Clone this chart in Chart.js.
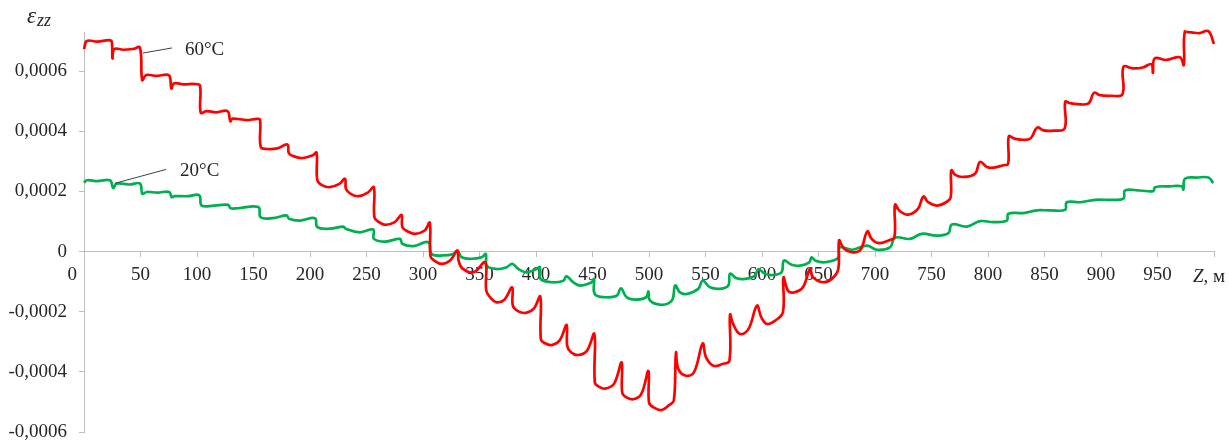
<!DOCTYPE html>
<html>
<head>
<meta charset="utf-8">
<script src="https://cdn.jsdelivr.net/npm/chart.js@4/dist/chart.umd.min.js"></script>
<style>
  body { margin: 0; background: #fff; }
  #wrap { width: 1230px; height: 441px; }
</style>
</head>
<body>
<div id="wrap"><canvas id="grafik"></canvas></div>
<script>
// Z, м  and strain eps_zz for 60°C (red)
const z60 = [0, 2.5, 12, 22, 24.5, 25.2, 26.8, 35, 44, 49.5, 51.5, 55, 64, 73.5, 76, 77.3, 79.5, 88, 98, 102.6,
  103.3, 108.5, 117, 127, 129.5, 131.5, 144, 153, 155.8, 156.4, 162, 171, 180, 181.4, 188, 194, 202.5, 205.8,
  206.5, 211, 217.5, 226, 231, 231.8, 236, 243, 251.5, 256.5, 257, 261, 266.5, 275, 281, 281.8, 287, 293, 301.5, 306,
  306.6, 310, 316.5, 324, 330.4, 331.5, 335, 345, 355, 356, 360, 365, 372, 378.9, 379.5, 384, 391, 398, 403.8,
  404.3, 408, 414, 421, 427.1, 427.6, 431, 437, 445, 451.6, 452.1, 456, 461, 469, 475.8, 476.3, 480, 486, 493, 499.5,
  500, 504, 511, 518, 522, 523.9, 526, 533, 540, 547.5, 550.5, 557, 565, 571.2, 571.7, 574.5, 580.5, 588, 595.5,
  599.5, 604.5, 611.5, 618.5, 619, 623, 628, 636, 642.5, 645, 654, 662, 667.5, 668.2, 672, 679, 687, 693.2,
  697, 703, 712, 717.2, 717.7, 722, 729.5, 738, 742.8, 747, 754.5, 763, 767, 767.5, 771, 778, 788.5, 793,
  799, 805, 813.5, 817.8, 818.4, 823, 829, 837.5, 843.5, 849, 858, 867.8, 868.3, 872, 879, 889, 893.8,
  899, 909, 919, 919.8, 928, 937, 944.5, 946, 947.5, 958, 969.8, 973.3, 974.2, 980, 987, 995, 1000];
const eps60 = [0.000673, 0.0007, 0.000698, 0.000703, 0.000698, 0.000642, 0.000673, 0.000671, 0.000674, 0.000678, 0.00057, 0.000587, 0.000584, 0.000588, 0.000582, 0.000542, 0.000559, 0.000556, 0.000557, 0.000552,
  0.000462, 0.000467, 0.000463, 0.000467, 0.000433, 0.000442, 0.000437, 0.000441, 0.000438, 0.000348, 0.000341, 0.000343, 0.000356, 0.000326, 0.000314, 0.000311, 0.00032, 0.000329,
  0.000237, 0.00022, 0.000214, 0.000225, 0.000242, 0.000209, 0.000192, 0.000184, 0.000197, 0.000214, 0.000114, 0.000098, 0.000089, 0.000098, 0.000122, 0.000081, 0.000066, 0.000059, 0.00007, 0.000096,
  -0.000015, -0.00003, -0.000041, -0.00003, 0.000003, -0.00003, -0.000057, -0.000069, -0.000036, -0.00013, -0.000155, -0.000169, -0.00016, -0.000119, -0.00018, -0.000198, -0.000204, -0.00019, -0.00015,
  -0.000291, -0.000305, -0.000311, -0.000295, -0.000244, -0.000313, -0.000335, -0.000344, -0.00033, -0.000274, -0.000436, -0.00045, -0.000456, -0.00044, -0.000369, -0.000469, -0.000485, -0.000491, -0.000475, -0.000397,
  -0.000502, -0.000518, -0.000527, -0.00051, -0.000495, -0.000336, -0.000391, -0.000413, -0.0004, -0.000306, -0.000352, -0.00038, -0.000374, -0.000363, -0.00021, -0.000241, -0.000274, -0.000258, -0.00018,
  -0.00022, -0.000241, -0.00023, -0.000202, -0.000086, -0.00013, -0.000136, -0.00012, -0.000058, -0.000085, -0.000102, -0.00009, -0.000058, 0.000037, 0.000012, -0.000002, 0.000005, 0.000067,
  0.000042, 0.000028, 0.000037, 0.000048, 0.000156, 0.000134, 0.000123, 0.000142, 0.000183, 0.000164, 0.000153, 0.000164, 0.000181, 0.00027, 0.000255, 0.000248, 0.000259, 0.000298,
  0.000281, 0.000279, 0.000287, 0.000292, 0.000383, 0.000376, 0.000372, 0.000376, 0.000412, 0.000403, 0.000402, 0.000409, 0.000498, 0.000494, 0.00049, 0.000493, 0.000528,
  0.00052, 0.000518, 0.000523, 0.000614, 0.000609, 0.000612, 0.000623, 0.000594, 0.000642, 0.000637, 0.000646, 0.00062, 0.000731, 0.000729, 0.000726, 0.000733, 0.00069];

// 20°C (green)
const z20 = [0, 2.5, 12, 23, 25.9, 28.9, 40.7, 49.6, 51.6, 55.5, 65, 75.5, 77.6, 80, 92, 102, 104.1, 115, 127.5, 129.8,
  136, 154.3, 156.3, 167, 179.4, 181.4, 191, 204.4, 206.5, 217.7, 229.5, 231.6, 244, 256, 256.6, 266.4, 279.7, 281.7,
  291.5, 304.7, 307.7, 318, 326.8, 330.4, 334.2, 343, 351.9, 355.7, 356.5, 365.2, 374, 379, 384.4, 391.7, 400.6, 403.5,
  404, 414, 424.2, 427.1, 432.9, 438.9, 449.2, 451.3, 452, 461, 471.4, 475.2, 480.2, 487.6, 497.4, 499.5, 500.9, 511.2,
  520.2, 523.2, 527.4, 533.3, 543.6, 547.5, 554, 562.8, 570.2, 571.7, 577.6, 585, 593.8, 596.8, 602.7, 610, 617.3,
  619.4, 626.2, 633.6, 641.8, 643.9, 647, 654.3, 663, 667.6, 669, 680, 692.8, 701.6, 713.3, 717.7, 731, 741.3, 754.6,
  765, 768, 781.2, 793, 804.8, 816.6, 818.1, 831.3, 843.1, 855, 868.3, 869.7, 881.5, 894.8, 908, 919.8, 921.3, 934.5,
  946.3, 947.8, 961, 971.4, 972.9, 974.3, 984.7, 995, 999.4];
const eps20 = [0.000229, 0.000237, 0.000234, 0.000237, 0.000211, 0.000226, 0.000223, 0.000226, 0.000192, 0.000198, 0.000196, 0.000198, 0.000181, 0.000184, 0.000184, 0.000187, 0.000153, 0.000153, 0.000155, 0.000144,
  0.000144, 0.000148, 0.000114, 0.000111, 0.00012, 0.000109, 0.000103, 0.000111, 0.000081, 0.000076, 0.000083, 0.000076, 0.000064, 0.000073, 0.000042, 0.000033, 0.000042, 0.000026,
  0.000018, 0.000031, -0.000008, -0.000013, -0.000008, 0.000003, -0.000019, -0.000024, -0.000019, -0.000008, -0.000047, -0.000058, -0.000052, -0.000041, -0.000058, -0.000069, -0.000058, -0.000052,
  -0.000091, -0.000102, -0.000097, -0.000082, -0.000102, -0.000113, -0.000102, -0.000091, -0.000141, -0.000152, -0.000147, -0.000122, -0.000152, -0.00016, -0.000152, -0.000133, -0.000163, -0.000177,
  -0.000163, -0.000113, -0.000136, -0.000141, -0.000124, -0.000097, -0.000119, -0.000124, -0.000113, -0.000074, -0.000089, -0.000091, -0.00008, -0.000058, -0.000074, -0.000078, -0.000069,
  -0.00003, -0.000044, -0.000047, -0.000036, -0.000019, -0.00003, -0.000036, -0.00003, -0.000019, 0.000014, 0.000006, 0.00002, 0.000006, 0.000014, 0.000046, 0.000042, 0.000059, 0.000053,
  0.000061, 0.00009, 0.000083, 0.000101, 0.000098, 0.000103, 0.000126, 0.000128, 0.000137, 0.000137, 0.000139, 0.000164, 0.000164, 0.000172, 0.000172, 0.000176, 0.000203, 0.000203,
  0.000201, 0.000214, 0.000217, 0.000217, 0.000206, 0.000242, 0.000246, 0.000246, 0.000228];

const yTicks = [-0.0006, -0.0004, -0.0002, 0, 0.0002, 0.0004, 0.0006];

// подписи кривых: [текст, начало выноски (z, eps), конец выноски, позиция текста]
const labels = [
  ["60°C", [52.2, 0.00066], [77.9, 0.000677], [89.4, 0.00067]],
  ["20°C", [27.4, 0.000227], [72.6, 0.000273], [85, 0.000267]]
];

const fontName = "'Liberation Serif', 'Times New Roman', serif";
const textColor = "#262626";
const axisColor = "#bfbfbf";

function toPoints(xs, ys) {
  return xs.map((x, i) => ({ x: x, y: ys[i] }));
}

const textPlugin = {
  id: "teksTambahan",
  afterDraw(chart) {
    const ctx = chart.ctx;
    const sx = chart.scales.x;
    const sy = chart.scales.y;
    ctx.save();

    // выноски и подписи
    labels.forEach(l => {
      ctx.strokeStyle = "#404040";
      ctx.lineWidth = 1;
      ctx.beginPath();
      ctx.moveTo(sx.getPixelForValue(l[1][0]), sy.getPixelForValue(l[1][1]));
      ctx.lineTo(sx.getPixelForValue(l[2][0]), sy.getPixelForValue(l[2][1]));
      ctx.stroke();
      ctx.fillStyle = textColor;
      ctx.font = "19px " + fontName;
      ctx.textBaseline = "middle";
      ctx.textAlign = "left";
      ctx.fillText(l[0], sx.getPixelForValue(l[3][0]), sy.getPixelForValue(l[3][1]));
    });

    // ось Y: eps_zz
    ctx.textBaseline = "alphabetic";
    ctx.font = "italic 23px " + fontName;
    ctx.fillText("ε", 27, 23);
    ctx.font = "italic 18px " + fontName;
    ctx.fillText("zz", 37, 26);

    // ось X: Z, м
    const y0 = sy.getPixelForValue(0) + 30;
    ctx.font = "italic 19px " + fontName;
    ctx.fillText("Z", 1193, y0);
    const w = ctx.measureText("Z").width;
    ctx.font = "19px " + fontName;
    ctx.fillText(", м", 1193 + w, y0);
    ctx.restore();
  }
};

new Chart(document.getElementById("grafik"), {
  type: "line",
  data: {
    datasets: [
      {
        label: "60°C",
        data: toPoints(z60, eps60),
        borderColor: "#ff0000",
        borderWidth: 2.7,
        pointRadius: 0,
        tension: 0.4,
        clip: 6
      },
      {
        label: "20°C",
        data: toPoints(z20, eps20),
        borderColor: "#00b050",
        borderWidth: 2.7,
        pointRadius: 0,
        tension: 0.4,
        clip: 6
      }
    ]
  },
  options: {
    responsive: true,
    maintainAspectRatio: false,
    animation: false,
    layout: { padding: { top: 32, right: 16, bottom: 9, left: 0 } },
    plugins: {
      legend: { display: false },
      tooltip: { enabled: false }
    },
    scales: {
      x: {
        type: "linear",
        position: { y: 0 },
        min: 0,
        max: 1000,
        grid: { drawOnChartArea: false, drawTicks: true, tickLength: 5, color: axisColor },
        border: { display: true, color: axisColor, width: 1 },
        ticks: {
          stepSize: 50,
          autoSkip: false,
          maxRotation: 0,
          padding: 7,
          color: textColor,
          font: { family: fontName, size: 19 },
          callback: v => v === 1000 ? "" : (v === 0 ? "0     " : String(v))
        }
      },
      y: {
        type: "linear",
        position: "left",
        min: -0.0006,
        max: 0.00073,
        afterBuildTicks: scale => { scale.ticks = yTicks.map(v => ({ value: v })); },
        afterFit: scale => { scale.width = 84; scale.paddingTop = 0; scale.paddingBottom = 0; },
        grid: { drawOnChartArea: false, drawTicks: true, tickLength: 5, color: axisColor },
        border: { display: true, color: axisColor, width: 1 },
        ticks: {
          padding: 12,
          color: textColor,
          font: { family: fontName, size: 19 },
          callback: v => v === 0 ? "0" : v.toFixed(4).replace(".", ",")
        }
      }
    }
  },
  plugins: [textPlugin]
});
</script>
</body>
</html>
